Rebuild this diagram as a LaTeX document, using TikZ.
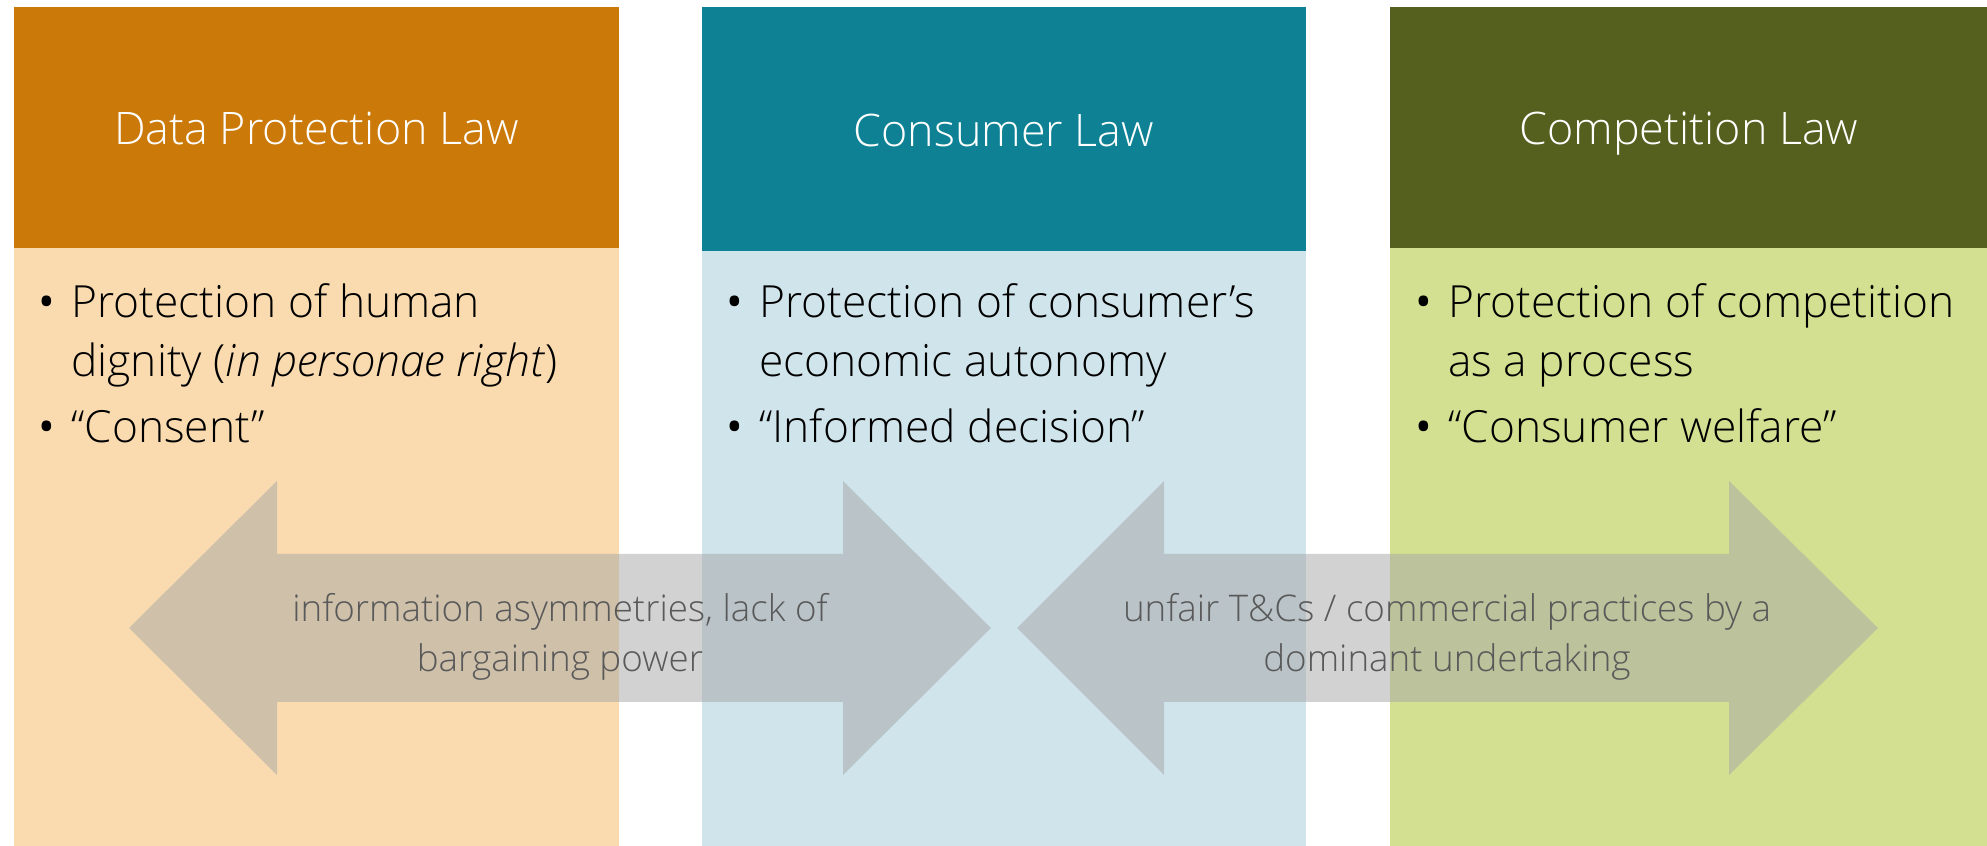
\documentclass[tikz,border=0pt]{standalone}
\usepackage{fontspec}
\setmainfont{Open Sans Light}
\newfontfamily\bulletfont{Open Sans}
\usepackage{xcolor}
\usepackage{tikz}

\definecolor{dpdark}{HTML}{CB7909}
\definecolor{dplight}{HTML}{FADBB0}
\definecolor{cldark}{HTML}{0E8294}
\definecolor{cllight}{HTML}{D0E4EB}
\definecolor{codark}{HTML}{55601F}
\definecolor{colight}{HTML}{D3DF91}
\definecolor{bandgray}{HTML}{A6A6A6}
\definecolor{bandtext}{HTML}{595959}

% bullet and hanging indent for the point lists
\newcommand{\itemdot}{{\bulletfont\textbullet}\hspace{1.6mm}}
\newcommand{\itemgap}{\phantom{\itemdot}}

\begin{document}
\begin{tikzpicture}[
                x=0.01cm, y=-0.01cm,
                header/.style={rectangle, anchor=north west, minimum width=6.05cm, minimum height=2.41cm,
                               text=white, font=\fontsize{12.75}{15}\selectfont, inner sep=0pt,
                               text height=1em, text depth=0em},
                body/.style={rectangle, anchor=north west, minimum width=6.05cm, minimum height=6cm, inner sep=0pt},
                points/.style={anchor=north west, align=left, inner sep=0pt, font=\fontsize{12.6}{16.7}\selectfont},
                band/.style={fill=bandgray, fill opacity=0.5},
                bandlabel/.style={align=center, text=bandtext, font=\fontsize{10.45}{14.2}\selectfont}
            ]
            \useasboundingbox (0,0) rectangle (1987,846);

            % Columns
            \node[header, fill=dpdark] (dph) at (13,6) {Data Protection Law};
            \node[body, fill=dplight] (dpb) at (13,247) {};
            \node[header, fill=cldark, minimum width=6.04cm, minimum height=2.44cm] (clh) at (701,6) {Consumer Law};
            \node[body, fill=cllight, minimum width=6.04cm, minimum height=5.96cm] (clb) at (701,250) {};
            \node[header, fill=codark, minimum width=5.98cm] (coh) at (1389,6) {Competition Law};
            \node[body, fill=colight, minimum width=5.98cm] (cob) at (1389,247) {};

            % Bullet points
            \node[points] (dpp) at (38,283) {\itemdot Protection of human\\
                \itemgap dignity (\textit{in personae right})\\[2.2pt]
                \itemdot “Consent”};
            \node[points] (clp) at (726,283) {\itemdot Protection of consumer’s\\
                \itemgap economic autonomy\\[2.2pt]
                \itemdot “Informed decision”};
            \node[points] (cop) at (1415,283) {\itemdot Protection of competition\\
                \itemgap as a process\\[2.2pt]
                \itemdot “Consumer welfare”};

            % Double arrows between the fields
            \draw[band, draw=none] (129,628) -- (277,481) -- (277,554) -- (843,554) -- (843,481)
                -- (991,628) -- (843,775) -- (843,702) -- (277,702) -- (277,775) -- cycle;
            \draw[band, draw=none] (1017,628) -- (1164,481) -- (1164,554) -- (1729,554) -- (1729,481)
                -- (1878,628) -- (1729,775) -- (1729,702) -- (1164,702) -- (1164,775) -- cycle;

            % Arrow labels
            \node[bandlabel] (asym) at (560,637) {information asymmetries, lack of\\ bargaining power};
            \node[bandlabel] (unfair) at (1447,637) {unfair T\&Cs / commercial practices by a\\ dominant undertaking};

            \end{tikzpicture}
\end{document}
